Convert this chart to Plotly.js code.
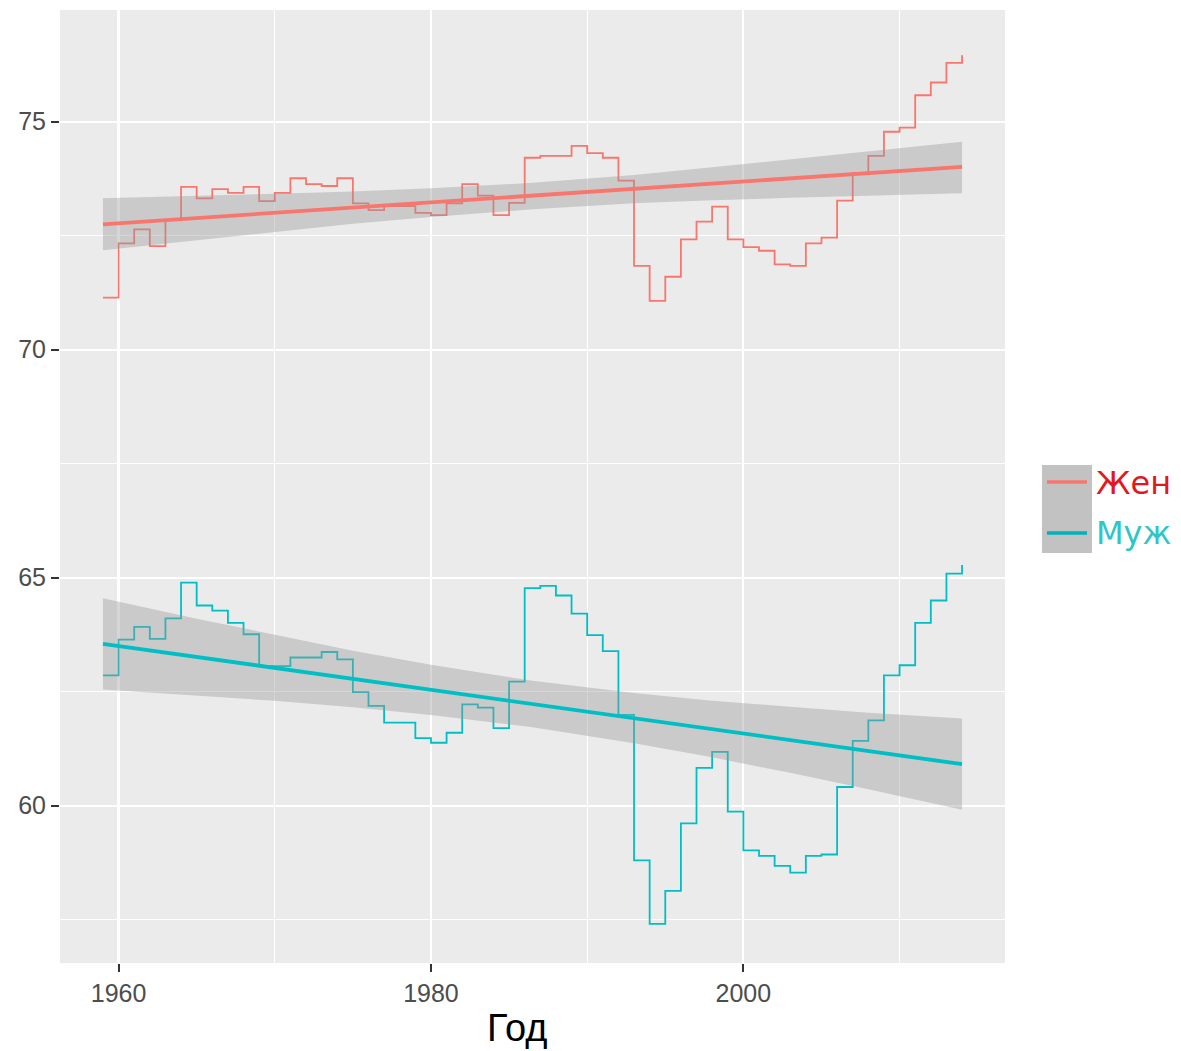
<!DOCTYPE html>
<html>
<head>
<meta charset="utf-8">
<script src="https://cdn.plot.ly/plotly-3.0.1.min.js"></script>
<style>html,body{margin:0;padding:0;background:#fff;}#chart{width:1181px;height:1051px;}</style>
</head>
<body>
<div id="chart"></div>
<script>
// ---- data ----
const years = [1959,1960,1961,1962,1963,1964,1965,1966,1967,1968,1969,1970,1971,1972,1973,1974,1975,1976,1977,1978,1979,1980,1981,1982,1983,1984,1985,1986,1987,1988,1989,1990,1991,1992,1993,1994,1995,1996,1997,1998,1999,2000,2001,2002,2003,2004,2005,2006,2007,2008,2009,2010,2011,2012,2013,2014];
const female = [71.14,72.33,72.64,72.27,72.84,73.57,73.32,73.52,73.44,73.57,73.26,73.44,73.76,73.63,73.59,73.76,73.21,73.06,73.15,73.15,73.00,72.95,73.21,73.63,73.38,72.95,73.22,74.21,74.25,74.25,74.47,74.31,74.21,73.71,71.84,71.07,71.60,72.42,72.81,73.14,72.42,72.25,72.17,71.87,71.84,72.33,72.46,73.27,73.88,74.25,74.78,74.87,75.58,75.86,76.29,76.46];
const male = [62.86,63.64,63.92,63.66,64.11,64.89,64.39,64.28,64.01,63.76,63.06,63.06,63.25,63.25,63.37,63.21,62.49,62.19,61.82,61.82,61.48,61.38,61.60,62.22,62.15,61.70,62.72,64.77,64.82,64.61,64.21,63.74,63.39,61.99,58.80,57.41,58.13,59.61,60.83,61.18,59.87,59.02,58.90,58.68,58.53,58.90,58.93,60.41,61.42,61.87,62.86,63.08,64.01,64.50,65.09,65.28];

const fitYears = [1959, 2014];
const femaleFit = [72.75, 74.01];
const maleFit = [63.55, 60.91];

const bandYears = [1959,1965,1970,1975,1980,1986.5,1993,1998,2003,2008,2014];
const femaleLow = [72.18,72.40,72.58,72.76,72.91,73.08,73.21,73.28,73.33,73.38,73.43];
const femaleHigh = [73.32,73.37,73.42,73.47,73.54,73.66,73.83,74.00,74.17,74.35,74.56];
const maleLow = [62.55,62.42,62.30,62.16,61.99,61.72,61.37,61.06,60.72,60.36,59.91];
const maleHigh = [64.55,64.10,63.75,63.40,63.09,62.74,62.47,62.30,62.17,62.04,61.91];

const seriesNames = ["Жен", "Муж"];
const xTitle = "Год";

// ---- styles ----
const colF = "#F8766D", colM = "#00BFC4";
const bandFill = "rgba(153,153,153,0.4)";

const W = 1181, H = 1051;
const M = {l: 60, r: 176, t: 10, b: 88};
const pw = W - M.l - M.r, ph = H - M.t - M.b;
const px = v => (v - M.l) / pw;
const py = v => (H - M.b - v) / ph;

const traces = [
  {x: years, y: female, type: "scatter", mode: "lines", line: {shape: "hv", color: colF, width: 1.8}, hoverinfo: "skip", showlegend: false},
  {x: years, y: male, type: "scatter", mode: "lines", line: {shape: "hv", color: colM, width: 1.8}, hoverinfo: "skip", showlegend: false},
  {x: bandYears, y: femaleLow, type: "scatter", mode: "lines", line: {width: 0}, showlegend: false, hoverinfo: "skip"},
  {x: bandYears, y: femaleHigh, type: "scatter", mode: "lines", line: {width: 0}, fill: "tonexty", fillcolor: bandFill, showlegend: false, hoverinfo: "skip"},
  {x: bandYears, y: maleLow, type: "scatter", mode: "lines", line: {width: 0}, showlegend: false, hoverinfo: "skip"},
  {x: bandYears, y: maleHigh, type: "scatter", mode: "lines", line: {width: 0}, fill: "tonexty", fillcolor: bandFill, showlegend: false, hoverinfo: "skip"},
  {x: fitYears, y: femaleFit, type: "scatter", mode: "lines", line: {color: colF, width: 3.8}, showlegend: false, hoverinfo: "skip"},
  {x: fitYears, y: maleFit, type: "scatter", mode: "lines", line: {color: colM, width: 3.8}, showlegend: false, hoverinfo: "skip"}
];

const tickFont = {family: "Liberation Sans, Arial, sans-serif", size: 25, color: "#4D4D4D"};

const layout = {
  width: W, height: H,
  margin: M,
  paper_bgcolor: "#FFFFFF",
  plot_bgcolor: "#EBEBEB",
  showlegend: false,
  xaxis: {
    range: [1956.25, 2016.75], tickmode: "linear", tick0: 1960, dtick: 20,
    showgrid: true, gridcolor: "#FFFFFF", gridwidth: 2.2,
    minor: {tickmode: "linear", tick0: 1960, dtick: 10, showgrid: true, gridcolor: "#FFFFFF", gridwidth: 1.2, ticks: ""},
    zeroline: false, showline: false,
    ticks: "outside", ticklen: 8, tickwidth: 2, tickcolor: "#333333",
    tickfont: tickFont
  },
  yaxis: {
    range: [56.55, 77.45], tickmode: "linear", tick0: 60, dtick: 5,
    showgrid: true, gridcolor: "#FFFFFF", gridwidth: 2.2,
    minor: {tickmode: "linear", tick0: 57.5, dtick: 5, showgrid: true, gridcolor: "#FFFFFF", gridwidth: 1.2, ticks: ""},
    zeroline: false, showline: false,
    ticks: "outside", ticklen: 8, tickwidth: 2, tickcolor: "#333333",
    tickfont: tickFont
  },
  shapes: [
    {type: "rect", xref: "paper", yref: "paper", x0: px(1042), x1: px(1092), y0: py(553), y1: py(465), fillcolor: "#C2C2C2", line: {width: 0}},
    {type: "line", xref: "paper", yref: "paper", x0: px(1047), x1: px(1087), y0: py(482), y1: py(482), line: {color: colF, width: 3.5}},
    {type: "line", xref: "paper", yref: "paper", x0: px(1047), x1: px(1087), y0: py(533), y1: py(533), line: {color: "#00B3B8", width: 3.5}}
  ],
  annotations: [
    {text: seriesNames[0], xref: "paper", yref: "paper", x: px(1094), y: py(483), xanchor: "left", yanchor: "middle", showarrow: false,
     font: {family: "DejaVu Sans, sans-serif", size: 32, color: "#E3171F"}},
    {text: seriesNames[1], xref: "paper", yref: "paper", x: px(1094), y: py(533), xanchor: "left", yanchor: "middle", showarrow: false,
     font: {family: "DejaVu Sans, sans-serif", size: 32, color: "#2DC6C8"}},
    {text: xTitle, xref: "paper", yref: "paper", x: px(517), y: py(1028), xanchor: "center", yanchor: "middle", showarrow: false,
     font: {family: "Liberation Sans, Arial, sans-serif", size: 38, color: "#000000"}}
  ]
};

Plotly.newPlot("chart", traces, layout, {staticPlot: true, displayModeBar: false});
</script>
</body>
</html>
